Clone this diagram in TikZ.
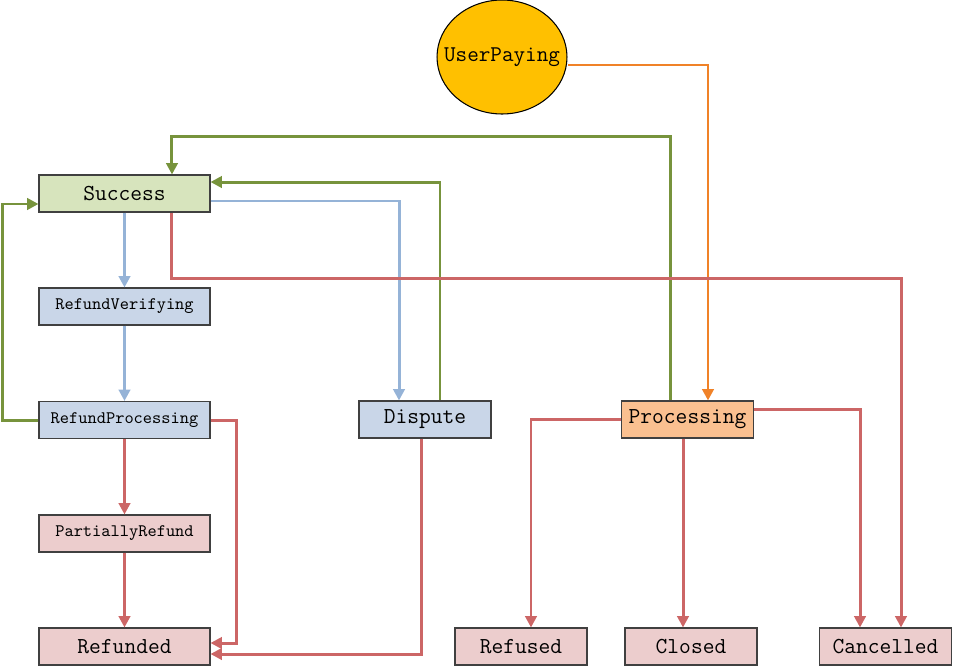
\documentclass[tikz,border=0pt]{standalone}
\usepackage{tikz}
\usetikzlibrary{arrows.meta,positioning,shapes.geometric}
\definecolor{okgreen}{RGB}{119,147,60}
\definecolor{refblue}{RGB}{149,179,215}
\definecolor{failred}{RGB}{204,102,102}
\definecolor{payorange}{RGB}{240,130,40}
\definecolor{fillgreen}{RGB}{215,228,189}
\definecolor{fillblue}{RGB}{201,214,232}
\definecolor{fillpink}{RGB}{236,205,205}
\definecolor{fillorange}{RGB}{250,192,144}
\definecolor{fillgold}{RGB}{255,192,0}
\definecolor{border}{RGB}{64,64,64}

\begin{document}
\begin{tikzpicture}[
  x=0.02cm, y=-0.02cm,
  state/.style={draw=border, line width=0.6pt, rectangle, minimum width=3.42cm, minimum height=0.74cm, inner sep=0pt, font=\ttfamily\fontsize{13}{15}\selectfont},
  small/.style={state, font=\ttfamily\fontsize{10}{12}\selectfont},
  short/.style={state, minimum width=2.64cm},
  flow/.style={-{Triangle[length=6.5pt,width=6.5pt]}, line width=1.7pt}
]
  \useasboundingbox (0,0) rectangle (953,667);

  % Start
  \node[draw=black, line width=0.6pt, ellipse, fill=fillgold, minimum width=2.6cm, minimum height=2.28cm, inner sep=0pt,
        label={[font=\ttfamily\fontsize{12.8}{15}\selectfont]center:UserPaying}] (UserPaying) at (502,57) {};

  % Refund column
  \node[state, fill=fillgreen] (Success) at (124.5,193.5) {Success};
  \node[small, fill=fillblue] (RefundVerifying) at (124.5,306.5) {RefundVerifying};
  \node[small, fill=fillblue] (RefundProcessing) at (124.5,420) {RefundProcessing};
  \node[small, fill=fillpink] (PartiallyRefund) at (124.5,533.5) {PartiallyRefund};
  \node[state, fill=fillpink] (Refunded) at (124.5,646.5) {Refunded};

  % Middle and right
  \node[short, fill=fillblue] (Dispute) at (425,419.5) {Dispute};
  \node[short, fill=fillorange] (Processing) at (687.5,419.5) {Processing};
  \node[short, fill=fillpink] (Refused) at (521,646.5) {Refused};
  \node[short, fill=fillpink] (Closed) at (691,646.5) {Closed};
  \node[short, fill=fillpink] (Cancelled) at (885.5,646.5) {Cancelled};

  % Payment
  \draw[flow, payorange] ([yshift=-0.16cm]UserPaying.east) -| ([xshift=0.41cm]Processing.north);

  % Back to success
  \draw[flow, okgreen] ([xshift=-0.35cm]Processing.north) -- ++(0,-264) -| ([xshift=0.95cm]Success.north);
  \draw[flow, okgreen] ([xshift=0.3cm]Dispute.north) |- ([yshift=0.23cm]Success.east);
  \draw[flow, okgreen] (RefundProcessing.west) -- ++(-36,0) |- ([yshift=-0.21cm]Success.west);

  % Refund requests
  \draw[flow, refblue] (Success) -- (RefundVerifying);
  \draw[flow, refblue] (RefundVerifying) -- (RefundProcessing);
  \draw[flow, refblue] ([yshift=-0.15cm]Success.east) -| ([xshift=-0.52cm]Dispute.north);

  % Final states
  \draw[flow, failred] ([xshift=0.95cm]Success.south) -- ++(0,66) -| ([xshift=0.31cm]Cancelled.north);
  \draw[flow, failred] (RefundProcessing) -- (PartiallyRefund);
  \draw[flow, failred] (PartiallyRefund) -- (Refunded);
  \draw[flow, failred] (RefundProcessing.east) -- ++(26,0) |- ([yshift=0.07cm]Refunded.east);
  \draw[flow, failred] ([xshift=-0.08cm]Dispute.south) |- ([yshift=-0.15cm]Refunded.east);
  \draw[flow, failred] (Processing.west) -| ([xshift=0.2cm]Refused.north);
  \draw[flow, failred] ([xshift=-0.09cm]Processing.south) -- ([xshift=-0.09cm]Processing.south |- Closed.north);
  \draw[flow, failred] ([yshift=0.21cm]Processing.east) -| ([xshift=-0.51cm]Cancelled.north);
\end{tikzpicture}
\end{document}
